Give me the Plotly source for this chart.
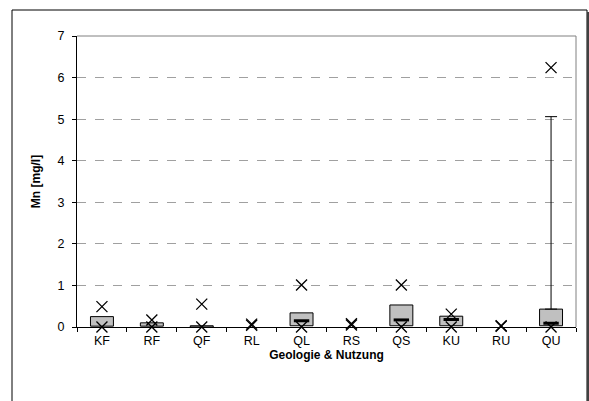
import plotly.graph_objects as go

categories = ["KF", "RF", "QF", "RL", "QL", "RS", "QS", "KU", "RU", "QU"]
q1 = [0.02, 0.02, 0.0, None, 0.03, None, 0.03, 0.03, None, 0.03]
q3 = [0.25, 0.10, 0.03, None, 0.34, None, 0.53, 0.26, None, 0.43]
median = [None, None, None, None, 0.15, None, 0.17, 0.18, None, 0.09]
whisker = [None, None, None, None, None, None, None, None, None, 5.06]
max_val = [0.49, 0.17, 0.55, 0.07, 1.01, 0.08, 1.01, 0.31, 0.03, 6.24]
min_val = [0.0, 0.0, 0.0, 0.04, 0.0, 0.05, 0.0, 0.0, 0.02, 0.0]

font = "Liberation Sans, Arial, sans-serif"

fig = go.Figure()

# boxes (Q1 - Q3)
fig.add_trace(go.Bar(
    x=categories,
    base=q1,
    y=[None if a is None else b - a for a, b in zip(q1, q3)],
    width=0.46,
    marker=dict(color="#c0c0c0", line=dict(color="black", width=1)),
    showlegend=False,
))

# whisker from Q3 up
wx = [c for c, w in zip(categories, whisker) if w is not None]
wy = [b for b, w in zip(q3, whisker) if w is not None]
wlen = [w - b for b, w in zip(q3, whisker) if w is not None]
fig.add_trace(go.Scatter(
    x=wx, y=wy, mode="markers",
    marker=dict(size=1, color="rgba(0,0,0,0)"),
    error_y=dict(type="data", array=wlen, arrayminus=[0] * len(wlen),
                 symmetric=False, color="black", thickness=1, width=6),
    showlegend=False, cliponaxis=False,
))

# median
fig.add_trace(go.Scatter(
    x=categories, y=median, mode="markers",
    marker=dict(symbol="line-ew", size=11, line=dict(color="black", width=3)),
    showlegend=False, cliponaxis=False,
))

# max / min
for vals in (max_val, min_val):
    fig.add_trace(go.Scatter(
        x=categories, y=vals, mode="markers",
        marker=dict(symbol="x-thin", size=11, line=dict(color="black", width=1.3)),
        showlegend=False, cliponaxis=False,
    ))

fig.update_layout(
    width=589, height=401,
    margin=dict(l=77, r=13, t=36, b=74),
    paper_bgcolor="white", plot_bgcolor="white",
    font=dict(family=font, size=12.5, color="black"),
    xaxis=dict(
        title=dict(text="<b>Geologie & Nutzung</b>", font=dict(size=12), standoff=2),
        type="category", tickson="boundaries", ticks="outside", ticklen=4,
        tickcolor="black", showline=True, linecolor="black", linewidth=1,
        showgrid=False, mirror=False, range=[-0.5, 9.5],
        ticklabelstandoff=2,
    ),
    yaxis=dict(
        title=dict(text="<b>Mn [mg/l]</b>", font=dict(size=12), standoff=14),
        range=[0, 7], dtick=1, ticks="outside", ticklen=4, tickcolor="black",
        showline=True, linecolor="black", linewidth=1,
        showgrid=True, gridcolor="#a0a0a0", griddash="dash", gridwidth=1,
        zeroline=False, ticklabelstandoff=5,
    ),
    shapes=[
        # plot frame top/right
        dict(type="line", xref="paper", yref="paper", x0=0, x1=1, y0=1, y1=1,
             line=dict(color="#808080", width=1)),
        dict(type="line", xref="paper", yref="paper", x0=1, x1=1, y0=0, y1=1,
             line=dict(color="#808080", width=1)),
        # outer chart border
        dict(type="rect", xref="paper", yref="paper",
             x0=(12 - 77) / 499, x1=(587 - 77) / 499,
             y0=(327 - 402) / 291, y1=(327 - 10) / 291,
             line=dict(color="black", width=1)),
        dict(type="line", xref="paper", yref="paper",
             x0=(588 - 77) / 499, x1=(588 - 77) / 499,
             y0=(327 - 402) / 291, y1=(327 - 12) / 291,
             line=dict(color="#404040", width=2)),
    ],
    bargap=0.5,
)

fig.write_html("out.html", config={"displayModeBar": False},
               post_script="document.body.style.margin='0';")
